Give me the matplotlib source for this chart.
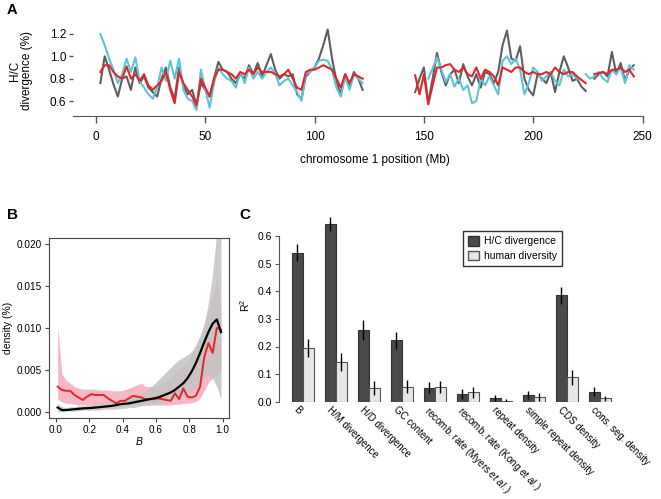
import matplotlib
matplotlib.use("Agg")
import matplotlib.pyplot as plt
from matplotlib.patches import Patch
import numpy as np

plt.rcParams['font.family'] = ['Liberation Sans', 'DejaVu Sans']
plt.rcParams['mathtext.fontset'] = 'custom'
plt.rcParams['mathtext.rm'] = 'Liberation Sans'
plt.rcParams['mathtext.it'] = 'Liberation Sans:italic'
plt.rcParams['font.size'] = 7.5

nan = np.nan

# ---- panel A: H/C divergence along chromosome 1 ----
pos_a1 = np.arange(2, 123, 2)
pos_a2 = np.arange(146, 247, 2)

gray_a1 = [0.76, 1.00, 0.88, 0.75, 0.64, 0.80, 0.82, 0.70, 0.90, 0.76,
           0.82, 0.72, 0.68, 0.64, 0.80, 0.90, 0.72, 0.62, 0.90, 0.74,
           0.66, 0.70, 0.56, 0.76, 0.70, 0.64, 0.80, 0.95, 0.88, 0.86,
           0.80, 0.76, 0.84, 0.80, 0.92, 0.84, 0.94, 0.82, 0.92, 1.02,
           0.88, 0.80, 0.84, 0.82, 0.84, 0.66, 0.62, 0.82, 0.86, 0.90,
           0.98, 1.10, 1.24, 0.98, 0.78, 0.66, 0.84, 0.74, 0.86, 0.80, 0.70]
cyan_a1 = [1.20, 1.10, 0.98, 0.88, 0.76, 0.84, 0.98, 0.86, 0.99, 0.78,
           0.72, 0.66, 0.62, 0.72, 0.90, 0.78, 0.96, 0.80, 0.98, 0.70,
           0.62, 0.60, 0.52, 0.88, 0.70, 0.54, 0.76, 0.90, 0.84, 0.80,
           0.78, 0.72, 0.86, 0.76, 0.90, 0.80, 0.86, 0.80, 0.86, 0.90,
           0.84, 0.74, 0.78, 0.80, 0.74, 0.68, 0.60, 0.84, 0.86, 0.90,
           0.96, 0.97, 0.96, 0.88, 0.72, 0.64, 0.82, 0.70, 0.84, 0.80, 0.76]
red_a1 = [0.86, 0.92, 0.92, 0.86, 0.82, 0.80, 0.91, 0.80, 0.84, 0.78,
          0.84, 0.74, 0.70, 0.74, 0.78, 0.86, 0.70, 0.58, 0.86, 0.76,
          0.70, 0.64, 0.56, 0.80, 0.72, 0.64, 0.80, 0.88, 0.88, 0.86,
          0.84, 0.80, 0.86, 0.84, 0.88, 0.84, 0.90, 0.86, 0.86, 0.86,
          0.84, 0.82, 0.84, 0.88, 0.80, 0.72, 0.70, 0.86, 0.88, 0.88,
          0.90, 0.92, 0.90, 0.88, 0.80, 0.72, 0.84, 0.76, 0.84, 0.82, 0.80]

gray_a2 = [0.68, 0.80, 0.90, 0.58, 0.80, 1.03, 0.86, 0.74, 0.84, 0.88,
           0.76, 0.93, 0.82, 0.74, 0.84, 0.72, 0.86, 0.84, 0.76, 0.86,
           1.10, 1.23, 0.98, 0.96, 1.09, 0.80, 0.70, 0.65, 0.84, 0.80,
           0.76, 0.86, 0.68, 0.86, 1.00, 0.90, 0.78, 0.80, 0.73, 0.69,
           nan, 0.80, 0.84, 0.86, 0.82, 1.04, 0.84, 0.94, 0.78, 0.88, 0.92]
cyan_a2 = [nan, nan, nan, 0.80, 0.89, 0.99, 0.88, 0.77, 0.84, 0.73,
           0.80, 0.70, 0.74, 0.58, 0.60, 0.80, 0.74, 0.82, 0.74, 0.66,
           0.96, 1.00, 0.93, 0.98, 0.88, 0.66, 0.76, 0.90, 0.86, 0.78,
           0.82, 0.86, 0.78, 0.74, 0.88, 0.82, 0.84, 0.80, nan, 0.84,
           0.80, 0.82, 0.86, 0.80, 0.77, 0.88, 0.84, 0.90, 0.76, 0.92, 0.88]
red_a2 = [0.83, 0.66, 0.84, 0.57, 0.74, 0.90, 0.90, 0.92, 0.93, 0.88,
          0.86, 0.90, 0.84, 0.82, 0.90, 0.80, 0.88, 0.86, 0.82, 0.74,
          0.90, 0.88, 0.86, 0.90, 0.90, 0.86, 0.84, 0.86, 0.84, 0.84,
          0.86, 0.84, 0.90, 0.86, 0.84, 0.86, 0.86, 0.82, 0.79, 0.76,
          nan, 0.84, 0.85, 0.86, 0.84, 0.88, 0.88, 0.90, 0.86, 0.88, 0.82]

# ---- panel B: density of B ----
b_x = np.linspace(0.01, 0.99, 40)
black_b = [0.0005, 0.0002, 0.0002, 0.00025, 0.0003, 0.00035, 0.0004, 0.00042, 0.00045, 0.0005,
           0.00055, 0.0006, 0.00065, 0.0007, 0.0008, 0.0009, 0.00095, 0.001, 0.0011, 0.0012,
           0.0013, 0.0014, 0.0015, 0.0016, 0.0017, 0.0019, 0.0021, 0.0023, 0.0026, 0.0030,
           0.0034, 0.0040, 0.0048, 0.0058, 0.0070, 0.0083, 0.0095, 0.0105, 0.0110, 0.0095]
red_b = [0.0030, 0.0026, 0.0025, 0.0025, 0.0020, 0.0017, 0.0014, 0.0018, 0.0021, 0.0020,
         0.0020, 0.0020, 0.0016, 0.0013, 0.0010, 0.0013, 0.0013, 0.0016, 0.0019, 0.0018,
         0.0017, 0.0015, 0.0015, 0.0015, 0.0016, 0.0015, 0.0014, 0.0013, 0.0022, 0.0015,
         0.0028, 0.0018, 0.0017, 0.0019, 0.0030, 0.0065, 0.0082, 0.0070, 0.0100, 0.0098]
pink_lo = [0.0015, 0.0012, 0.0010, 0.0010, 0.0009, 0.0008, 0.0008, 0.0008, 0.0008, 0.0008,
           0.0008, 0.0008, 0.0007, 0.0007, 0.0007, 0.0007, 0.0007, 0.0007, 0.0008, 0.0008,
           0.0008, 0.0008, 0.0008, 0.0008, 0.0008, 0.0008, 0.0008, 0.0008, 0.0009, 0.0009,
           0.0010, 0.0010, 0.0011, 0.0012, 0.0016, 0.0025, 0.0035, 0.0040, 0.0045, 0.0050]
pink_hi = [0.0102, 0.0045, 0.0038, 0.0034, 0.0030, 0.0028, 0.0027, 0.0027, 0.0027, 0.0027,
           0.0026, 0.0026, 0.0026, 0.0025, 0.0025, 0.0025, 0.0026, 0.0028, 0.0030, 0.0032,
           0.0034, 0.0030, 0.0030, 0.0030, 0.0031, 0.0033, 0.0036, 0.0040, 0.0046, 0.0050,
           0.0055, 0.0060, 0.0068, 0.0078, 0.0090, 0.0105, 0.0120, 0.0135, 0.0160, 0.0120]
grey_lo = [0.0000, 0.0000, 0.0001, 0.0001, 0.0001, 0.0001, 0.0002, 0.0002, 0.0002, 0.0002,
           0.0002, 0.0003, 0.0003, 0.0003, 0.0003, 0.0004, 0.0004, 0.0005, 0.0005, 0.0006,
           0.0007, 0.0008, 0.0008, 0.0009, 0.0010, 0.0011, 0.0012, 0.0013, 0.0014, 0.0016,
           0.0018, 0.0021, 0.0025, 0.0030, 0.0035, 0.0040, 0.0045, 0.0040, 0.0030, 0.0015]
grey_hi = [0.0010, 0.0006, 0.0005, 0.0006, 0.0006, 0.0007, 0.0007, 0.0008, 0.0008, 0.0009,
           0.0009, 0.0010, 0.0011, 0.0012, 0.0013, 0.0014, 0.0015, 0.0016, 0.0017, 0.0019,
           0.0021, 0.0024, 0.0028, 0.0033, 0.0038, 0.0043, 0.0048, 0.0053, 0.0058, 0.0062,
           0.0065, 0.0068, 0.0072, 0.0080, 0.0090, 0.0105, 0.0130, 0.0165, 0.0215, 0.0215]

# ---- panel C: R^2 ----
features = ['B', 'H/M divergence', 'H/D divergence', 'GC content',
            'recomb. rate (Myers $\\it{et\\ al.}$)', 'recomb. rate (Kong $\\it{et\\ al.}$)',
            'repeat density', 'simple repeat density', 'CDS density', 'cons. seg. density']
r2_div = [0.54, 0.645, 0.26, 0.222, 0.05, 0.028, 0.013, 0.024, 0.385, 0.036]
err_div = [0.032, 0.025, 0.035, 0.03, 0.02, 0.018, 0.01, 0.015, 0.031, 0.017]
r2_hum = [0.195, 0.143, 0.049, 0.055, 0.052, 0.034, 0.004, 0.017, 0.088, 0.012]
err_hum = [0.033, 0.032, 0.025, 0.025, 0.022, 0.02, 0.006, 0.013, 0.027, 0.01]

W, H = 661, 499
fig = plt.figure(figsize=(W / 100, H / 100), dpi=100)

def box(l, t, r, b):
    return [l / W, 1 - b / H, (r - l) / W, (b - t) / H]

axis_col = '#555555'

# panel A
axA = fig.add_axes(box(73, 25, 642.5, 116))
c_gray, c_cyan, c_red = '#5e5e5e', '#5fc3d8', '#e3262d'
for xs, g, c, r in [(pos_a1, gray_a1, cyan_a1, red_a1), (pos_a2, gray_a2, cyan_a2, red_a2)]:
    axA.plot(xs, g, color=c_gray, lw=1.5)
    axA.plot(xs, c, color=c_cyan, lw=1.5)
    axA.plot(xs, r, color=c_red, lw=1.5)
axA.set_xlim(-10.5, 250)
axA.set_ylim(0.466, 1.28)
axA.set_xticks([0, 50, 100, 150, 200, 250])
axA.set_yticks([0.6, 0.8, 1.0, 1.2])
for s in ['top', 'right', 'left']:
    axA.spines[s].set_visible(False)
axA.spines['bottom'].set_color(axis_col)
axA.tick_params(color=axis_col, length=5, width=1, pad=6, labelsize=8.5)
axA.tick_params(axis='y', length=3, pad=2)
axA.set_xlabel('chromosome 1 position (Mb)', fontsize=8.5)
axA.xaxis.set_label_coords(0.53, -0.42)
axA.set_ylabel('H/C\ndivergence (%)', fontsize=8.5, linespacing=1.0)
axA.yaxis.set_label_coords(-0.07, 0.5)

# panel B
axB = fig.add_axes(box(49, 238, 229, 417.7))
axB.fill_between(b_x, pink_lo, pink_hi, color='#f5b8c4', lw=0)
axB.fill_between(b_x, grey_lo, grey_hi, color='#c4c4c4', lw=0, alpha=0.85)
axB.plot(b_x, red_b, color='#e3262d', lw=1.4)
axB.plot(b_x, black_b, color='black', lw=1.6)
axB.set_xlim(-0.042, 1.038)
axB.set_ylim(-0.00071, 0.02072)
axB.set_xticks([0, 0.2, 0.4, 0.6, 0.8, 1.0])
axB.set_xticklabels(['0.0', '0.2', '0.4', '0.6', '0.8', '1.0'])
axB.set_yticks([0, 0.005, 0.010, 0.015, 0.020])
axB.set_yticklabels(['0.000', '0.005', '0.010', '0.015', '0.020'])
for s in axB.spines.values():
    s.set_color('#444444')
axB.tick_params(color='#444444', length=3, pad=2, labelsize=7.2)
axB.set_xlabel('B', style='italic', labelpad=2, fontsize=7.5)
axB.set_ylabel('density (%)', labelpad=3, fontsize=7.5)

# panel C
axC = fig.add_axes(box(279.3, 208.5, 625, 401.7))
idx = np.arange(len(features))
bw = 0.333
axC.bar(idx - bw / 2, r2_div, bw, color='#4a4a4a', edgecolor='#333333', lw=0.8)
axC.bar(idx + bw / 2, r2_hum, bw, color='#e6e6e6', edgecolor='#555555', lw=0.8)
axC.errorbar(idx - bw / 2, r2_div, yerr=err_div, fmt='none', ecolor='black', elinewidth=1, capsize=0)
axC.errorbar(idx + bw / 2, r2_hum, yerr=err_hum, fmt='none', ecolor='black', elinewidth=1, capsize=0)
axC.set_xlim(-0.709, 9.77)
axC.set_ylim(0, 0.70)
axC.set_yticks([0, 0.1, 0.2, 0.3, 0.4, 0.5, 0.6])
axC.set_yticklabels(['0.0', '0.1', '0.2', '0.3', '0.4', '0.5', '0.6'])
for s in ['top', 'right', 'bottom']:
    axC.spines[s].set_visible(False)
axC.spines['left'].set_bounds(0, 0.6)
axC.spines['left'].set_color(axis_col)
axC.tick_params(axis='y', color=axis_col, length=3, pad=2)
axC.set_xticks(idx - 0.1)
axC.set_xticklabels(features, rotation=-45, ha='left', va='top', rotation_mode='anchor', fontsize=7.0)
axC.tick_params(axis='x', length=0, pad=2)
axC.set_ylabel('R$^2$', labelpad=4)

fig.legend(handles=[Patch(facecolor='#4a4a4a', edgecolor='#333333', label='H/C divergence'),
                    Patch(facecolor='#e6e6e6', edgecolor='#555555', label='human diversity')],
           loc='upper left', bbox_to_anchor=(463 / W, 1 - 231 / H), frameon=True, fancybox=False,
           edgecolor='#333333', framealpha=1, handlelength=1.0, handleheight=1.0,
           handletextpad=0.5, borderpad=0.5, labelspacing=0.4, borderaxespad=0, fontsize=7.5)

fig.text(12 / W, 1 - 10 / H, 'A', fontsize=10.5, fontweight='bold', ha='center', va='center')
fig.text(12 / W, 1 - 215 / H, 'B', fontsize=11, fontweight='bold', ha='center', va='center')
fig.text(245 / W, 1 - 215 / H, 'C', fontsize=11, fontweight='bold', ha='center', va='center')

fig.savefig('out.png', dpi=100)
